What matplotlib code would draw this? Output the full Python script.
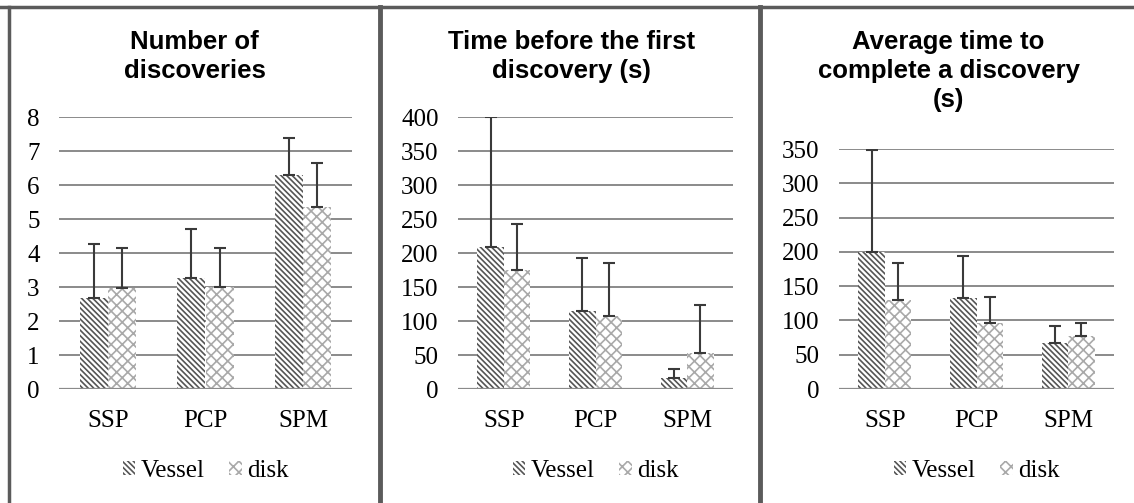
import matplotlib
matplotlib.use("Agg")
import matplotlib.pyplot as plt
from matplotlib.lines import Line2D
import numpy as np

categories = ["SSP", "PCP", "SPM"]
series_names = ["Vessel", "disk"]

titles = [
    "Number of\ndiscoveries",
    "Time before the first\ndiscovery (s)",
    "Average time to\ncomplete a discovery\n(s)",
]

# panel 1: number of discoveries
count_vessel = [2.68, 3.27, 6.3]
count_vessel_err = [1.58, 1.44, 1.09]
count_disk = [2.97, 3.0, 5.36]
count_disk_err = [1.18, 1.15, 1.28]

# panel 2: time before first discovery
first_vessel = [209, 115, 16]
first_vessel_err = [191, 78, 14]
first_disk = [175, 107, 53]
first_disk_err = [68, 78, 71]

# panel 3: average time per discovery
avg_vessel = [200, 133, 67]
avg_vessel_err = [148, 61, 25]
avg_disk = [130, 96, 77]
avg_disk_err = [54, 38, 19]

y_ticks = [
    [0, 1, 2, 3, 4, 5, 6, 7, 8],
    [0, 50, 100, 150, 200, 250, 300, 350, 400],
    [0, 50, 100, 150, 200, 250, 300, 350],
]

panels = [
    (count_vessel, count_vessel_err, count_disk, count_disk_err),
    (first_vessel, first_vessel_err, first_disk, first_disk_err),
    (avg_vessel, avg_vessel_err, avg_disk, avg_disk_err),
]

W, H = 1134, 503
# axes boxes in pixels: left, top, right, bottom
boxes = [(59, 117, 352, 389), (458, 117, 733, 389), (839, 149, 1114, 389)]
panel_spans = [(9, 380), (383, 760), (763, 1134)]

plt.rcParams["hatch.linewidth"] = 1.2
serif = "Liberation Serif"
sans = "Liberation Sans"
fs = 18

fig = plt.figure(figsize=(W / 100, H / 100), dpi=100)
fig.patch.set_facecolor("white")

vessel_col = "#555555"
disk_col = "#a9a9a9"
grid_col = "#8a8a8a"
bw = 0.29

for i, (vals_v, err_v, vals_d, err_d) in enumerate(panels):
    l, t, r, b = boxes[i]
    ax = fig.add_axes([l / W, 1 - b / H, (r - l) / W, (b - t) / H])
    x = np.arange(len(categories))
    ax.bar(x - bw / 2, vals_v, bw, facecolor="white", edgecolor=vessel_col,
           hatch="\\" * 6, linewidth=0, label=series_names[0], zorder=2)
    ax.bar(x + bw / 2, vals_d, bw, facecolor="white", edgecolor=disk_col,
           hatch="xxx", linewidth=0, label=series_names[1], zorder=2)
    ax.errorbar(x - bw / 2, vals_v, yerr=[np.zeros(3), err_v], fmt="none",
                ecolor="#3a3a3a", elinewidth=1.5, capsize=4.5, capthick=1.5, zorder=3)
    ax.errorbar(x + bw / 2, vals_d, yerr=[np.zeros(3), err_d], fmt="none",
                ecolor="#3a3a3a", elinewidth=1.5, capsize=4.5, capthick=1.5, zorder=3)

    ticks = y_ticks[i]
    ax.set_ylim(0, ticks[-1])
    ax.set_xlim(-0.5, 2.5)
    ax.set_yticks(ticks)
    for tv in ticks[1:]:
        ax.axhline(tv, color=grid_col, lw=1.4, zorder=1)
    ax.axhline(0, color=grid_col, lw=1.6, zorder=4)
    for s in ax.spines.values():
        s.set_visible(False)
    ax.set_xticks(x)
    ax.set_xticklabels(categories, fontfamily=serif, fontsize=fs)
    ax.tick_params(axis="y", length=0, pad=14, labelsize=fs)
    ax.tick_params(axis="x", length=0, pad=15)
    for lab in ax.get_yticklabels():
        lab.set_fontfamily(serif)
    ax.set_facecolor("none")

    ax.legend(loc="center", bbox_to_anchor=(0.5, (b - 471) / (b - t)),
              ncol=2, frameon=False, prop={"family": serif, "size": fs},
              handlelength=0.5, handleheight=0.5, handletextpad=0.2,
              columnspacing=1.0, borderaxespad=0)

    p0, p1 = panel_spans[i]
    fig.text((p0 + p1) / 2 / W, 1 - 30 / H, titles[i], ha="center", va="top",
             fontfamily=sans, fontweight="bold", fontsize=18.5, linespacing=1.26)

# panel frames
border = "#5b5b5b"
fig.add_artist(Line2D([0, 1], [1 - 7 / H, 1 - 7 / H], color=border, lw=2.5))
for xp in [9, 380, 760]:
    fig.add_artist(Line2D([xp / W, xp / W], [0, 1 - 7 / H], color=border,
                          lw=3.5 if xp > 9 else 2.5))

fig.savefig("out.png", dpi=100, facecolor="white")
